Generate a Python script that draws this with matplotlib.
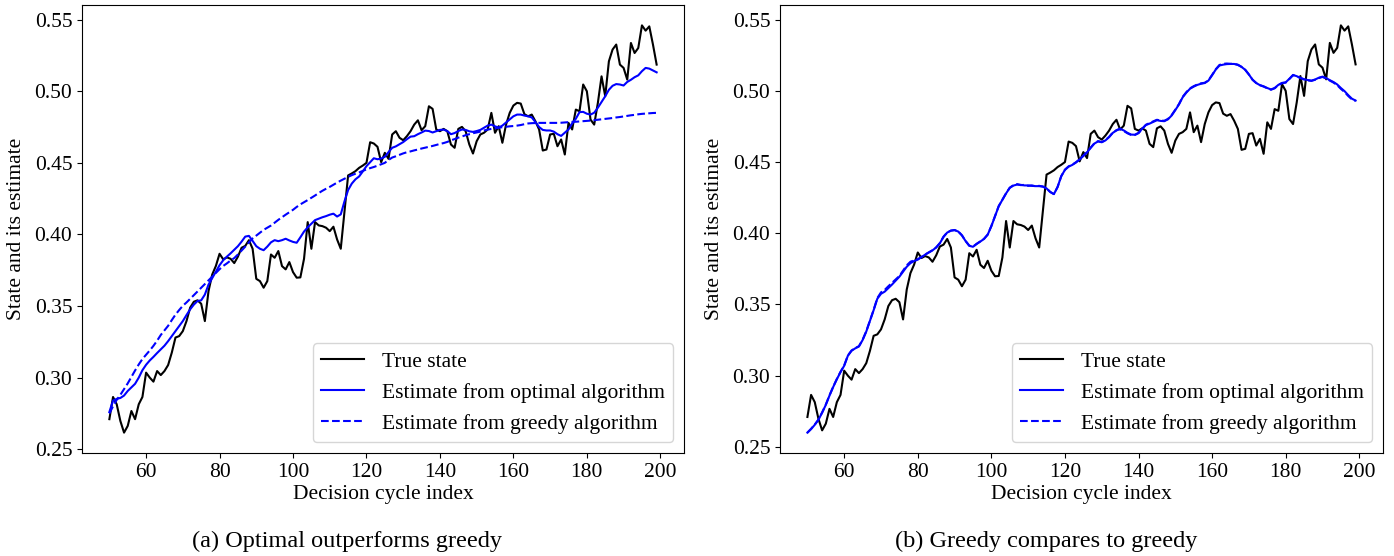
import matplotlib
matplotlib.use("Agg")
import matplotlib.pyplot as plt
import numpy as np

plt.rcParams['font.family'] = ['Liberation Serif', 'DejaVu Serif']
plt.rcParams['font.size'] = 15.5

x_start, x_end = 50, 199

true_state = [
    0.2710, 0.2865, 0.2814, 0.2697, 0.2616, 0.2663, 0.2767, 0.2710, 0.2814, 0.2865,
    0.3035, 0.3000, 0.2972, 0.3046, 0.3018, 0.3046, 0.3088, 0.3175, 0.3280, 0.3290,
    0.3325, 0.3395, 0.3489, 0.3530, 0.3540, 0.3516, 0.3395, 0.3605, 0.3720, 0.3780,
    0.3865, 0.3826, 0.3840, 0.3830, 0.3800, 0.3845, 0.3907, 0.3920, 0.3960, 0.3900,
    0.3690, 0.3674, 0.3628, 0.3674, 0.3860, 0.3837, 0.3884, 0.3779, 0.3756, 0.3807,
    0.3737, 0.3698, 0.3700, 0.3830, 0.4086, 0.3900, 0.4086, 0.4063, 0.4058, 0.4047,
    0.4023, 0.4054, 0.3965, 0.3900, 0.4156, 0.4412, 0.4426, 0.4442, 0.4465, 0.4481,
    0.4500, 0.4644, 0.4635, 0.4612, 0.4505, 0.4570, 0.4528, 0.4698, 0.4721, 0.4675,
    0.4658, 0.4686, 0.4721, 0.4767, 0.4797, 0.4728, 0.4756, 0.4895, 0.4877, 0.4733,
    0.4721, 0.4737, 0.4721, 0.4628, 0.4605, 0.4737, 0.4751, 0.4721, 0.4628, 0.4565,
    0.4651, 0.4698, 0.4710, 0.4733, 0.4849, 0.4710, 0.4756, 0.4640, 0.4767, 0.4849,
    0.4900, 0.4919, 0.4914, 0.4840, 0.4825, 0.4837, 0.4790, 0.4733, 0.4586, 0.4593,
    0.4698, 0.4703, 0.4616, 0.4663, 0.4558, 0.4779, 0.4733, 0.4872, 0.4860, 0.5047,
    0.5000, 0.4802, 0.4767, 0.4919, 0.5104, 0.4965, 0.5209, 0.5291, 0.5326, 0.5186,
    0.5163, 0.5081, 0.5337, 0.5267, 0.5302, 0.5460, 0.5423, 0.5453, 0.5326, 0.5186,
]

optimal_a = [
    0.2760, 0.2840, 0.2852, 0.2858, 0.2875, 0.2907, 0.2932, 0.2957, 0.3000, 0.3052,
    0.3090, 0.3120, 0.3145, 0.3172, 0.3197, 0.3223, 0.3255, 0.3290, 0.3325, 0.3360,
    0.3395, 0.3437, 0.3477, 0.3510, 0.3535, 0.3540, 0.3580, 0.3650, 0.3695, 0.3740,
    0.3785, 0.3820, 0.3845, 0.3868, 0.3893, 0.3918, 0.3950, 0.3985, 0.3990, 0.3955,
    0.3918, 0.3900, 0.3890, 0.3915, 0.3945, 0.3960, 0.3953, 0.3960, 0.3970, 0.3958,
    0.3948, 0.3942, 0.3980, 0.4020, 0.4050, 0.4075, 0.4100, 0.4110, 0.4120, 0.4128,
    0.4138, 0.4145, 0.4125, 0.4140, 0.4230, 0.4310, 0.4355, 0.4385, 0.4405, 0.4440,
    0.4477, 0.4505, 0.4532, 0.4525, 0.4530, 0.4542, 0.4575, 0.4605, 0.4615, 0.4630,
    0.4645, 0.4665, 0.4683, 0.4686, 0.4700, 0.4712, 0.4725, 0.4722, 0.4712, 0.4721,
    0.4730, 0.4732, 0.4722, 0.4700, 0.4708, 0.4722, 0.4733, 0.4730, 0.4720, 0.4716,
    0.4722, 0.4730, 0.4745, 0.4760, 0.4767, 0.4755, 0.4746, 0.4760, 0.4782, 0.4805,
    0.4825, 0.4837, 0.4837, 0.4830, 0.4825, 0.4817, 0.4785, 0.4750, 0.4730, 0.4726,
    0.4726, 0.4718, 0.4700, 0.4688, 0.4710, 0.4733, 0.4775, 0.4808, 0.4854, 0.4856,
    0.4843, 0.4837, 0.4850, 0.4885, 0.4925, 0.4965, 0.5010, 0.5038, 0.5050, 0.5047,
    0.5040, 0.5065, 0.5080, 0.5098, 0.5111, 0.5140, 0.5163, 0.5158, 0.5145, 0.5132,
]

greedy_a = [
    0.2750, 0.2800, 0.2845, 0.2880, 0.2920, 0.2960, 0.3005, 0.3050, 0.3092, 0.3130,
    0.3160, 0.3190, 0.3222, 0.3258, 0.3298, 0.3330, 0.3362, 0.3402, 0.3440, 0.3472,
    0.3502, 0.3525, 0.3550, 0.3576, 0.3602, 0.3628, 0.3654, 0.3680, 0.3705, 0.3732,
    0.3757, 0.3780, 0.3798, 0.3818, 0.3835, 0.3860, 0.3887, 0.3915, 0.3945, 0.3972,
    0.3992, 0.4012, 0.4032, 0.4047, 0.4062, 0.4082, 0.4102, 0.4120, 0.4138, 0.4155,
    0.4172, 0.4192, 0.4210, 0.4225, 0.4240, 0.4256, 0.4272, 0.4289, 0.4305, 0.4319,
    0.4332, 0.4347, 0.4362, 0.4376, 0.4389, 0.4402, 0.4414, 0.4424, 0.4433, 0.4444,
    0.4454, 0.4463, 0.4471, 0.4480, 0.4490, 0.4500, 0.4520, 0.4537, 0.4546, 0.4556,
    0.4566, 0.4574, 0.4580, 0.4587, 0.4593, 0.4600, 0.4606, 0.4612, 0.4618, 0.4625,
    0.4632, 0.4638, 0.4646, 0.4657, 0.4666, 0.4676, 0.4684, 0.4693, 0.4700, 0.4707,
    0.4712, 0.4718, 0.4726, 0.4732, 0.4737, 0.4741, 0.4745, 0.4749, 0.4752, 0.4755,
    0.4757, 0.4760, 0.4764, 0.4770, 0.4775, 0.4777, 0.4778, 0.4779, 0.4779, 0.4779,
    0.4779, 0.4779, 0.4779, 0.4780, 0.4782, 0.4784, 0.4786, 0.4787, 0.4789, 0.4791,
    0.4793, 0.4795, 0.4798, 0.4801, 0.4804, 0.4807, 0.4810, 0.4813, 0.4817, 0.4820,
    0.4824, 0.4828, 0.4832, 0.4835, 0.4839, 0.4842, 0.4844, 0.4846, 0.4848, 0.4849,
]

optimal_b = [
    0.2600, 0.2625, 0.2655, 0.2690, 0.2740, 0.2795, 0.2860, 0.2920, 0.2975, 0.3025,
    0.3070, 0.3140, 0.3175, 0.3192, 0.3205, 0.3250, 0.3310, 0.3385, 0.3460, 0.3540,
    0.3575, 0.3590, 0.3615, 0.3640, 0.3668, 0.3695, 0.3730, 0.3765, 0.3790, 0.3805,
    0.3815, 0.3832, 0.3850, 0.3865, 0.3880, 0.3900, 0.3930, 0.3975, 0.4005, 0.4018,
    0.4022, 0.4012, 0.3985, 0.3945, 0.3912, 0.3905, 0.3925, 0.3942, 0.3960, 0.3990,
    0.4050, 0.4120, 0.4190, 0.4235, 0.4280, 0.4319, 0.4335, 0.4342, 0.4340, 0.4336,
    0.4336, 0.4333, 0.4331, 0.4331, 0.4328, 0.4315, 0.4290, 0.4275, 0.4325, 0.4401,
    0.4445, 0.4468, 0.4480, 0.4497, 0.4518, 0.4543, 0.4568, 0.4600, 0.4630, 0.4645,
    0.4639, 0.4652, 0.4675, 0.4705, 0.4722, 0.4733, 0.4722, 0.4705, 0.4693, 0.4692,
    0.4705, 0.4735, 0.4760, 0.4770, 0.4782, 0.4794, 0.4789, 0.4787, 0.4800, 0.4827,
    0.4865, 0.4905, 0.4955, 0.4988, 0.5015, 0.5030, 0.5042, 0.5050, 0.5055, 0.5072,
    0.5110, 0.5150, 0.5178, 0.5184, 0.5188, 0.5189, 0.5189, 0.5182, 0.5168, 0.5148,
    0.5115, 0.5078, 0.5055, 0.5040, 0.5032, 0.5020, 0.5010, 0.5020, 0.5042, 0.5056,
    0.5060, 0.5085, 0.5112, 0.5103, 0.5092, 0.5082, 0.5076, 0.5072, 0.5080, 0.5092,
    0.5100, 0.5090, 0.5075, 0.5062, 0.5045, 0.5020, 0.4998, 0.4970, 0.4945, 0.4932,
]

greedy_b = [
    0.2600, 0.2627, 0.2657, 0.2692, 0.2742, 0.2797, 0.2862, 0.2922, 0.2977, 0.3027,
    0.3072, 0.3142, 0.3177, 0.3194, 0.3207, 0.3252, 0.3312, 0.3387, 0.3462, 0.3545,
    0.3585, 0.3602, 0.3628, 0.3652, 0.3675, 0.3700, 0.3738, 0.3775, 0.3800, 0.3810,
    0.3818, 0.3834, 0.3851, 0.3866, 0.3881, 0.3901, 0.3931, 0.3976, 0.4006, 0.4019,
    0.4023, 0.4013, 0.3986, 0.3946, 0.3913, 0.3906, 0.3926, 0.3943, 0.3961, 0.3991,
    0.4051, 0.4121, 0.4191, 0.4236, 0.4281, 0.4320, 0.4338, 0.4345, 0.4338, 0.4340,
    0.4333, 0.4336, 0.4330, 0.4333, 0.4328, 0.4315, 0.4290, 0.4275, 0.4325, 0.4401,
    0.4447, 0.4470, 0.4482, 0.4499, 0.4520, 0.4545, 0.4570, 0.4602, 0.4632, 0.4647,
    0.4641, 0.4654, 0.4677, 0.4707, 0.4724, 0.4735, 0.4718, 0.4702, 0.4690, 0.4690,
    0.4703, 0.4733, 0.4762, 0.4774, 0.4786, 0.4797, 0.4792, 0.4790, 0.4803, 0.4830,
    0.4868, 0.4908, 0.4958, 0.4991, 0.5018, 0.5033, 0.5045, 0.5053, 0.5057, 0.5074,
    0.5112, 0.5152, 0.5182, 0.5190, 0.5192, 0.5190, 0.5190, 0.5184, 0.5169, 0.5148,
    0.5115, 0.5078, 0.5055, 0.5040, 0.5030, 0.5018, 0.5008, 0.5018, 0.5040, 0.5054,
    0.5058, 0.5083, 0.5110, 0.5101, 0.5090, 0.5080, 0.5074, 0.5070, 0.5078, 0.5090,
    0.5098, 0.5087, 0.5072, 0.5058, 0.5040, 0.5014, 0.4992, 0.4964, 0.4940, 0.4930,
]

legend_labels = ["True state", "Estimate from optimal algorithm", "Estimate from greedy algorithm"]
captions = ["(a) Optimal outperforms greedy", "(b) Greedy compares to greedy"]
x_label = "Decision cycle index"
y_label = "State and its estimate"

x = np.arange(x_start, x_end + 1)

W, H = 1394, 556
fig = plt.figure(figsize=(W / 100, H / 100), dpi=100)

axes_px = [(82, 684), (780, 1383)]
top_px, bot_px = 5, 453
panels = [(optimal_a, greedy_a), (optimal_b, greedy_b)]
caption_x = [347, 1046]

for (l, r), (opt, gr), cap, cx in zip(axes_px, panels, captions, caption_x):
    ax = fig.add_axes([l / W, 1 - bot_px / H, (r - l) / W, (bot_px - top_px) / H])
    ax.plot(x, true_state, color='black', lw=1.5, label=legend_labels[0])
    ax.plot(x, opt, color='blue', lw=1.5, label=legend_labels[1])
    ax.plot(x, gr, color='blue', lw=1.5, ls='--', label=legend_labels[2])
    ax.set_xticks([60, 80, 100, 120, 140, 160, 180, 200])
    ax.set_yticks([0.25, 0.30, 0.35, 0.40, 0.45, 0.50, 0.55])
    ax.set_xlabel(x_label, labelpad=2)
    ax.set_ylabel(y_label, labelpad=6)
    ax.legend(loc='lower right')
    fig.text(cx / W, 1 - 541 / H, cap, ha='center', va='center', fontsize=17.5)

fig.savefig("out.png", dpi=100)
